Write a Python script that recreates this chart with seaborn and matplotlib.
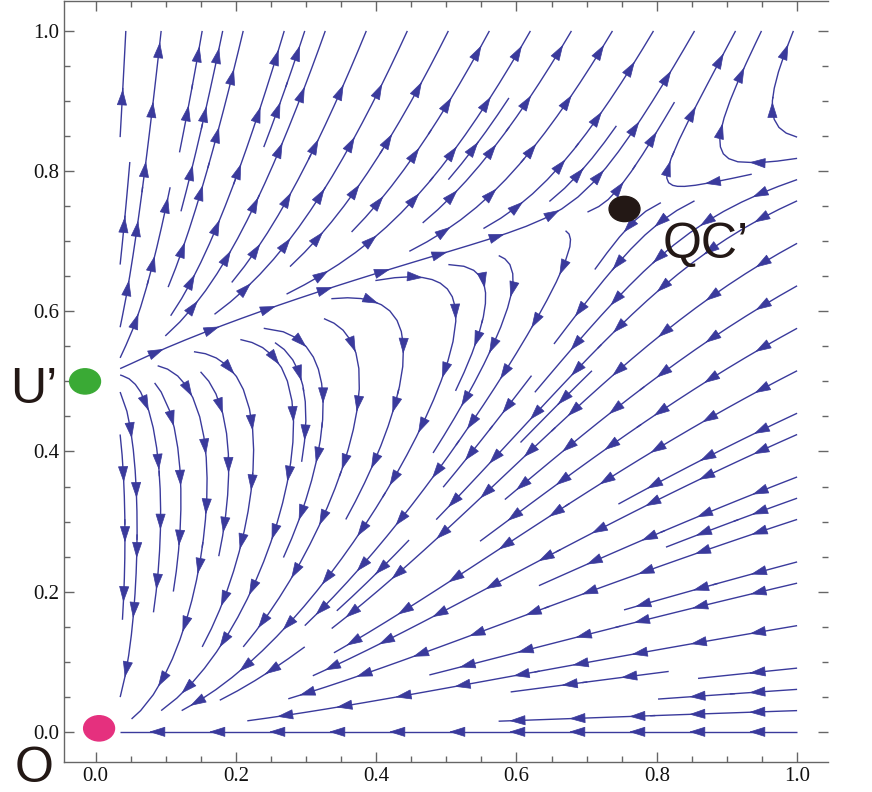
import numpy as np
import seaborn as sns
import matplotlib.pyplot as plt
from matplotlib.patches import Ellipse, FancyArrowPatch
from matplotlib.ticker import MultipleLocator, FormatStrFormatter

# fixed points (x, y) and their colours
fixed_names = ["O", "U\u2019", "QC\u2019"]
fixed_x = [0.005, -0.015, 0.754]
fixed_y = [0.005, 0.500, 0.746]
fixed_colors = ["#e5307e", "#3aaa35", "#231815"]

# flow coefficients: dx/dt = x*(a0 + a1*x + a2*y), dy/dt = y*(b0 + b1*x + b2*y)
a_coef = [-0.20, -0.533, 0.80]
b_coef = [-0.50, -0.333, 1.0]

stream_color = "#3a3a9c"

sns.set_style("ticks")
plt.rcParams["font.family"] = ["Liberation Serif", "DejaVu Serif"]

fig = plt.figure(figsize=(8.72, 7.92), dpi=100)
ax = fig.add_axes([0.0734, 0.0379, 0.9495 - 0.0734, 0.999 - 0.0379])
ax.set_xlim(-0.045, 1.044)
ax.set_ylim(-0.043, 1.043)

gx = np.linspace(0.035, 1, 121)
gy = np.linspace(0, 1, 121)
X, Y = np.meshgrid(gx, gy)
U = X * (a_coef[0] + a_coef[1] * X + a_coef[2] * Y)
V = Y * (b_coef[0] + b_coef[1] * X + b_coef[2] * Y)

sp = ax.streamplot(X, Y, U, V, color=stream_color, linewidth=1.0, density=1.15,
                   arrowstyle="-", arrowsize=0.1, minlength=0.13)

# arrowheads spaced evenly along each stream (in pixels), like Mathematica
spacing, offset = 60.0, 48.0
for seg in sp.lines.get_segments():
    pix = ax.transData.transform(seg)
    s = np.concatenate([[0], np.cumsum(np.hypot(*np.diff(pix, axis=0).T))])
    for p in np.arange(offset, s[-1] - 2, spacing):
        head = (np.interp(p, s, seg[:, 0]), np.interp(p, s, seg[:, 1]))
        tail = (np.interp(p - 4, s, seg[:, 0]), np.interp(p - 4, s, seg[:, 1]))
        ax.add_patch(FancyArrowPatch(tail, head, arrowstyle="-|>,head_length=1.05,head_width=0.33",
                                     mutation_scale=10, color=stream_color, lw=0.5,
                                     shrinkA=0, shrinkB=0, zorder=3))

for fx, fy, fc in zip(fixed_x, fixed_y, fixed_colors):
    ax.add_patch(Ellipse((fx, fy), 0.044, 0.036, color=fc, zorder=5, clip_on=False))

ax.xaxis.set_major_locator(MultipleLocator(0.2))
ax.yaxis.set_major_locator(MultipleLocator(0.2))
ax.xaxis.set_minor_locator(MultipleLocator(0.05))
ax.yaxis.set_minor_locator(MultipleLocator(0.05))
ax.xaxis.set_major_formatter(FormatStrFormatter("%.1f"))
ax.yaxis.set_major_formatter(FormatStrFormatter("%.1f"))
ax.tick_params(which="both", direction="in", top=True, right=True,
               color="#666666", labelsize=15, labelcolor="#111111")
ax.tick_params(which="major", length=7, width=1)
ax.tick_params(which="minor", length=4, width=1)
for s in ["left", "bottom", "top"]:
    ax.spines[s].set_color("#666666")
    ax.spines[s].set_linewidth(1)
ax.spines["right"].set_visible(False)

lab_kw = dict(fontsize=36, color="#231815", family=["Liberation Sans", "DejaVu Sans"],
              va="baseline", ha="left")
fig.text(0.0115, 0.491, fixed_names[1], **lab_kw)
fig.text(0.0172, 0.0126, fixed_names[0], **lab_kw)
fig.text(0.760, 0.674, fixed_names[2], **lab_kw)

fig.savefig("out.png", dpi=100)
